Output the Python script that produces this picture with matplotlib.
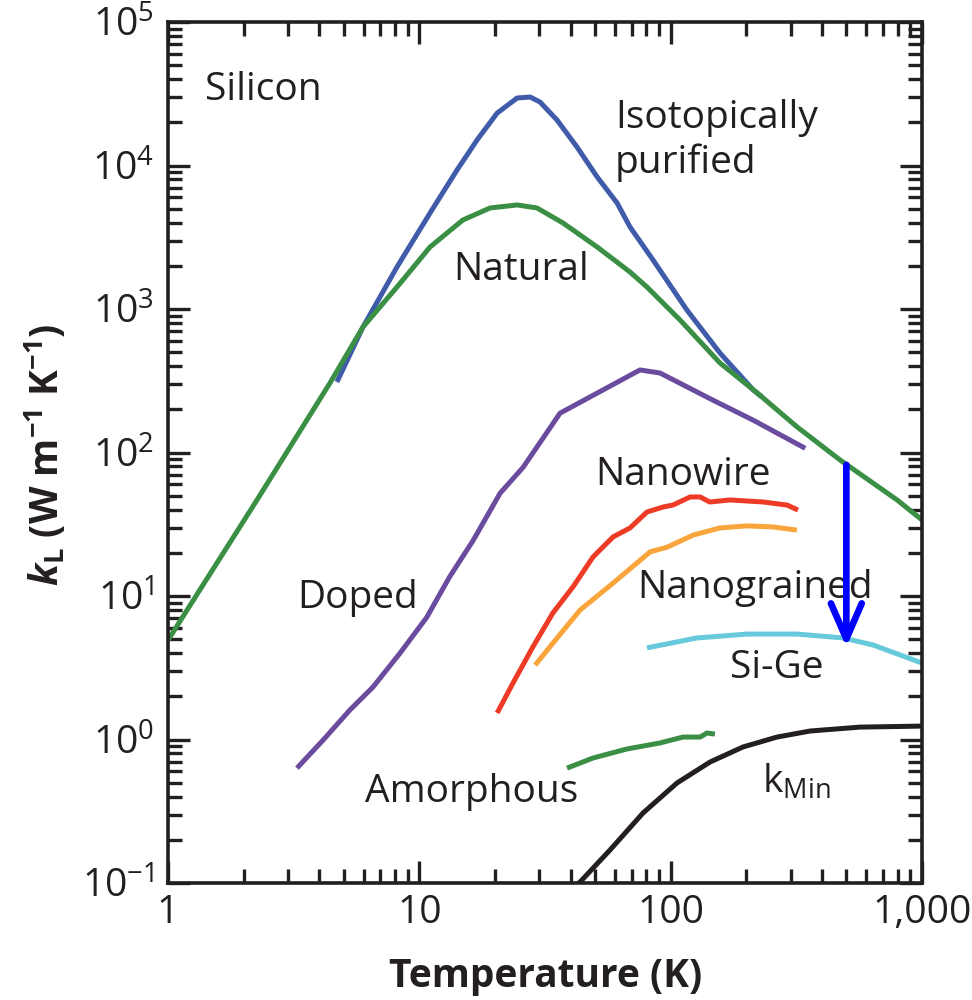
import matplotlib
matplotlib.use("Agg")
import matplotlib.pyplot as plt
from matplotlib.patches import FancyArrowPatch
from matplotlib.ticker import LogLocator, NullFormatter

plt.rcParams['font.family'] = ['Open Sans', 'DejaVu Sans']
plt.rcParams['mathtext.fontset'] = 'custom'
plt.rcParams['mathtext.rm'] = 'Open Sans'
plt.rcParams['mathtext.it'] = 'Open Sans:italic'
plt.rcParams['mathtext.bf'] = 'Open Sans:bold'
plt.rcParams['mathtext.bfit'] = 'Open Sans:bold:italic'

# ---------------- data ----------------
iso_T = [4.7, 5.97, 8.15, 11.03, 14.13, 16.97, 20.4, 24.5, 27.6, 30.2, 35.3, 42.4, 51, 61.2, 68.9,
         85.1, 116, 157, 213, 230]
iso_k = [310, 750, 1963, 4667, 9310, 15060, 23200, 29540, 30000, 27700, 20750, 13450, 8320, 5480, 3730,
         2195, 984, 494, 273, 245]

nat_T = [1.0, 2.26, 4.41, 5.97, 8.15, 11.03, 14.9, 19.1, 24.5, 29.4, 37.3, 51, 68.9, 80.5, 109, 157,
         221, 318, 472, 796, 1000]
nat_k = [4.93, 46.7, 305, 750, 1423, 2704, 4170, 5057, 5310, 5057, 3975, 2704, 1810, 1422, 838, 421,
         260, 151, 88.7, 46.7, 33.9]

dop_T = [3.26, 4.14, 5.30, 6.54, 8.38, 10.7, 13.2, 16.4, 20.95, 25.9, 36.3, 75.5, 90.7, 147, 213, 343]
dop_k = [0.632, 0.99, 1.61, 2.32, 4.0, 7.1, 13.6, 24.5, 52, 79, 188, 376, 358, 232, 168, 107]

nw_T = [20.4, 23.6, 28.3, 34.0, 40.9, 49.1, 59.0, 68.9, 80.5, 93.3, 102, 119.5, 131, 143, 172, 233, 291, 321]
nw_k = [1.53, 2.48, 4.42, 7.62, 11.6, 18.7, 25.8, 29.8, 38.5, 41.7, 43.0, 49.0, 49.0, 45.2, 46.7, 45.2, 43.0, 39.7]

ng_T = [28.9, 34.0, 43.6, 59.0, 82.8, 96.8, 123, 157, 201, 255, 318]
ng_k = [3.3, 4.7, 7.98, 12.3, 20.3, 21.9, 26.6, 29.8, 30.8, 30.3, 28.8]

sige_T = [80.5, 127, 201, 318, 485, 638, 1000]
sige_k = [4.35, 5.1, 5.43, 5.43, 5.1, 4.56, 3.41]

am_T = [38.7, 49.1, 67.0, 90.7, 112, 131, 139.6, 150]
am_k = [0.632, 0.743, 0.859, 0.946, 1.04, 1.04, 1.11, 1.09]

kmin_T = [42.0, 43.6, 57.4, 77.7, 106, 143.5, 194, 265, 359, 567, 1000]
kmin_k = [0.097, 0.1016, 0.170, 0.308, 0.498, 0.697, 0.887, 1.04, 1.146, 1.22, 1.24]

arrow_T = 500
arrow_k = [82, 4.4]

xtick_vals = [1, 10, 100, 1000]
xtick_labels = ['1', '10', '100', '1,000']
ytick_vals = [0.1, 1, 10, 100, 1000, 10000, 100000]
ytick_labels = [r'$\mathregular{10^{-1}}$', r'$\mathregular{10^{0}}$', r'$\mathregular{10^{1}}$',
                r'$\mathregular{10^{2}}$', r'$\mathregular{10^{3}}$', r'$\mathregular{10^{4}}$',
                r'$\mathregular{10^{5}}$']

# ---------------- figure ----------------
TXT = '#231F20'
fig = plt.figure(figsize=(9.72, 10), dpi=100)
ax = fig.add_axes([168/972, 1-883/1000, (922-168)/972, (883-22)/1000])
ax.set_xscale('log')
ax.set_yscale('log')
ax.set_xlim(1, 1000)
ax.set_ylim(0.1, 1e5)

lw = 3.6
kw = dict(lw=lw, solid_capstyle='butt', solid_joinstyle='round')
ax.plot(iso_T, iso_k, color='#3F5BA9', **kw)
ax.plot(nat_T, nat_k, color='#3A8F45', **kw)
ax.plot(dop_T, dop_k, color='#6A4B9E', **kw)
ax.plot(nw_T, nw_k, color='#EE3B25', **kw)
ax.plot(ng_T, ng_k, color='#F9A53B', **kw)
ax.plot(sige_T, sige_k, color='#67C9DC', **kw)
ax.plot(am_T, am_k, color='#3A8F45', **kw)
ax.plot(kmin_T, kmin_k, color=TXT, **kw)

arr = FancyArrowPatch((arrow_T, arrow_k[0]), (arrow_T, arrow_k[1]),
                      arrowstyle='->,head_length=0.85,head_width=0.37',
                      mutation_scale=30, lw=4.8, color='#0000FF',
                      shrinkA=0, shrinkB=0, zorder=5)
ax.add_patch(arr)

fs = 28
ax.text(1.40, 28600, 'Silicon', fontsize=fs, color=TXT, va='baseline', ha='left')
ax.text(60.1, 18240, 'Isotopically', fontsize=fs, color=TXT, va='baseline', ha='left')
ax.text(60.1, 8870, 'purified', fontsize=fs, color=TXT, va='baseline', ha='left')
ax.text(13.6, 1592, 'Natural', fontsize=fs, color=TXT, va='baseline', ha='left')
ax.text(3.26, 8.24, 'Doped', fontsize=fs, color=TXT, va='baseline', ha='left')
ax.text(50, 59.4, 'Nanowire', fontsize=fs, color=TXT, va='baseline', ha='left')
ax.text(73.5, 9.68, 'Nanograined', fontsize=fs, color=TXT, va='baseline', ha='left')
ax.text(172, 2.69, 'Si-Ge', fontsize=fs, color=TXT, va='baseline', ha='left')
ax.text(6.08, 0.366, 'Amorphous', fontsize=fs, color=TXT, va='baseline', ha='left')
ax.text(230, 0.424, r'k$_{\mathregular{Min}}$', fontsize=fs, color=TXT, va='baseline', ha='left')

# axes styling
for s in ax.spines.values():
    s.set_linewidth(2.6)
    s.set_color(TXT)
ax.set_xticks(xtick_vals, xtick_labels)
ax.set_yticks(ytick_vals, ytick_labels)
ax.xaxis.set_minor_locator(LogLocator(base=10, subs=range(2, 10), numticks=20))
ax.yaxis.set_minor_locator(LogLocator(base=10, subs=range(2, 10), numticks=20))
ax.xaxis.set_minor_formatter(NullFormatter())
ax.yaxis.set_minor_formatter(NullFormatter())
ax.tick_params(which='both', direction='in', top=True, right=True, color=TXT,
               labelcolor=TXT, labelsize=28)
ax.tick_params(which='major', length=16, width=2.4)
ax.tick_params(which='minor', length=10, width=2.4)
ax.tick_params(axis='x', which='major', pad=8)
ax.tick_params(axis='y', which='major', pad=10)

ax.set_xlabel('Temperature (K)', fontsize=28, fontweight='bold', color=TXT, va='baseline')
ax.xaxis.set_label_coords((546-168)/754, (883-987)/861)
ax.set_ylabel(r'$\mathbfit{k}_{\mathbf{L}}$ (W m$^{\mathbf{-1}}$ K$^{\mathbf{-1}}$)',
              fontsize=28, fontweight='bold', color=TXT, va='baseline', ha='center')
ax.yaxis.set_label_coords((59-168)/754, (883-455)/861)

fig.savefig('out.png', dpi=100)
